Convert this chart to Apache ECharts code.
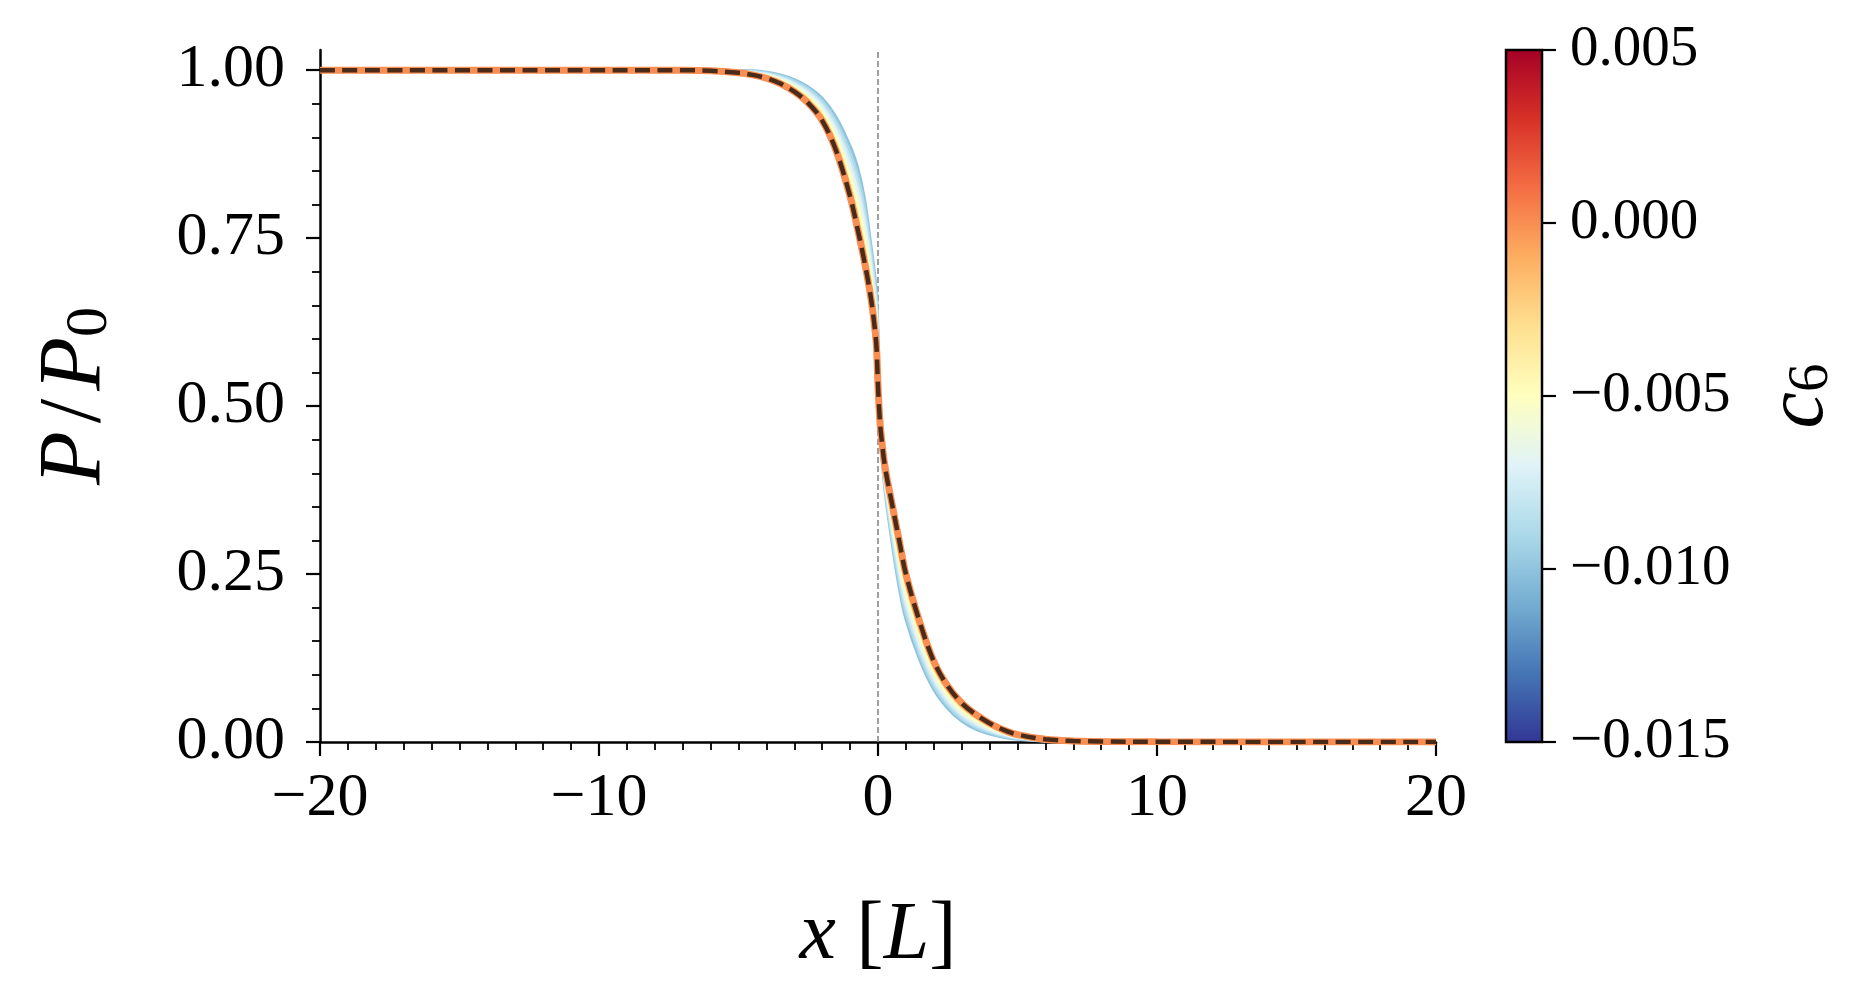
<!DOCTYPE html>
<html>
<head>
<meta charset="utf-8">
<script src="https://cdn.jsdelivr.net/npm/echarts@6/dist/echarts.min.js"></script>
<style>
html,body{margin:0;padding:0;background:#fff;}
#chart{width:1865px;height:1006px;}
</style>
</head>
<body>
<div id="chart"></div>
<script>
// ---------- data ----------
const X_VALUES = [-20,-10,-7,-6,-5,-4.5,-4,-3.5,-3,-2.5,-2,-1.5,-1,-0.75,-0.5,-0.25,-0.1,-0.05,0,0.05,0.1,0.25,0.5,0.75,1,1.5,2,2.5,3,3.5,4,4.5,5,6,7,8,10,20];

const C6_VALUES = [-0.010,-0.009,-0.008,-0.007,-0.006,-0.005,-0.004,0.000];

const P_C6_M010 = [1,1,1,1,0.9995,0.999,0.997,0.993,0.986,0.975,0.958,0.930,0.887,0.858,0.812,0.738,0.688,0.662,0.612,0.500,0.448,0.375,0.298,0.232,0.183,0.122,0.078,0.050,0.031,0.019,0.012,0.007,0.004,0.0012,0.0003,0,0,0];
const P_C6_M009 = [1,1,1,0.9999,0.9990,0.9982,0.9958,0.9913,0.9837,0.9719,0.9537,0.9235,0.8773,0.8462,0.7998,0.7279,0.6779,0.6520,0.6013,0.4987,0.4498,0.3795,0.3054,0.2411,0.1917,0.1293,0.0835,0.0543,0.0345,0.0219,0.0141,0.0084,0.0049,0.0016,0.0005,0.0001,0,0];
const P_C6_M008 = [1,1,1,0.9997,0.9986,0.9974,0.9947,0.9896,0.9813,0.9688,0.9494,0.9170,0.8675,0.8343,0.7876,0.7177,0.6677,0.6420,0.5907,0.4974,0.4516,0.3841,0.3128,0.2502,0.2004,0.1366,0.0889,0.0586,0.0380,0.0247,0.0162,0.0099,0.0058,0.0019,0.0006,0.0002,0.0001,0];
const P_C6_M007 = [1,1,1,0.9996,0.9981,0.9967,0.9935,0.9879,0.9790,0.9656,0.9451,0.9105,0.8578,0.8225,0.7753,0.7076,0.6576,0.6320,0.5800,0.4961,0.4535,0.3887,0.3202,0.2593,0.2091,0.1438,0.0944,0.0629,0.0415,0.0276,0.0182,0.0113,0.0067,0.0023,0.0008,0.0003,0.0001,0];
const P_C6_M006 = [1,1,1,0.9995,0.9977,0.9959,0.9923,0.9862,0.9766,0.9625,0.9408,0.9040,0.8480,0.8107,0.7631,0.6974,0.6474,0.6220,0.5694,0.4948,0.4553,0.3932,0.3276,0.2684,0.2178,0.1511,0.0998,0.0672,0.0450,0.0304,0.0203,0.0127,0.0076,0.0027,0.0009,0.0004,0.0002,0];
const P_C6_M005 = [1,1,1,0.9994,0.9973,0.9952,0.9912,0.9847,0.9745,0.9596,0.9369,0.8980,0.8390,0.7998,0.7518,0.6881,0.6381,0.6127,0.5595,0.4936,0.4570,0.3974,0.3345,0.2768,0.2259,0.1578,0.1049,0.0711,0.0483,0.0331,0.0222,0.0140,0.0085,0.0030,0.0011,0.0005,0.0002,0];
const P_C6_M004 = [1,1,1,0.9992,0.9968,0.9944,0.9902,0.9831,0.9723,0.9568,0.9329,0.8920,0.8300,0.7888,0.7406,0.6787,0.6287,0.6035,0.5497,0.4924,0.4586,0.4016,0.3413,0.2852,0.2339,0.1646,0.1099,0.0751,0.0515,0.0357,0.0242,0.0154,0.0093,0.0033,0.0012,0.0006,0.0002,0];
const P_C6_000  = [1,1,1,0.999,0.996,0.993,0.988,0.980,0.968,0.951,0.925,0.880,0.812,0.767,0.718,0.660,0.610,0.585,0.530,0.490,0.462,0.410,0.355,0.302,0.250,0.178,0.120,0.083,0.058,0.041,0.028,0.018,0.011,0.004,0.0015,0.0008,0.0003,0];

const CURVES = [P_C6_M010,P_C6_M009,P_C6_M008,P_C6_M007,P_C6_M006,P_C6_M005,P_C6_M004,P_C6_000];

const Y_MAJOR_TICKS = [0,0.25,0.5,0.75,1];
const Y_MINOR_TICKS = [0.05,0.1,0.15,0.2,0.3,0.35,0.4,0.45,0.55,0.6,0.65,0.7,0.8,0.85,0.9,0.95];
const CB_MIN = -0.015, CB_MAX = 0.005, CB_STEP = 0.005;

// ---------- styling ----------
const FONT = "'Liberation Serif','DejaVu Serif',serif";
const RDYLBU_R = ['#313695','#4575b4','#74add1','#abd9e9','#e0f3f8','#ffffbf','#fee090','#fdae61','#f46d43','#d73027','#a50026'];

function hexToRgb(h){return [parseInt(h.slice(1,3),16),parseInt(h.slice(3,5),16),parseInt(h.slice(5,7),16)];}
function cmap(t){
  t = Math.max(0, Math.min(1, t));
  const n = RDYLBU_R.length - 1;
  const p = t * n, i = Math.min(n - 1, Math.floor(p)), f = p - i;
  const a = hexToRgb(RDYLBU_R[i]), b = hexToRgb(RDYLBU_R[i+1]);
  const c = a.map((v,k)=>Math.round(v + (b[k]-v)*f));
  return 'rgb(' + c.join(',') + ')';
}
function colorFor(c6){ return cmap((c6 - CB_MIN)/(CB_MAX - CB_MIN)); }
function minus(s){ return s.replace('-', '\u2212'); }

const SMOOTH = 0.35;
const series = [];
CURVES.forEach((arr, idx) => {
  const c6 = C6_VALUES[idx];
  const isRef = c6 === 0;
  const s = {
    type: 'line',
    xAxisIndex: 0, yAxisIndex: 0,
    data: X_VALUES.map((x,i)=>[x, arr[i]]),
    showSymbol: false,
    smooth: SMOOTH,
    lineStyle: {color: colorFor(c6), width: isRef ? 7 : 3},
    itemStyle: {color: colorFor(c6)},
    z: 3,
    silent: true
  };
  if (idx === 0) {
    s.markLine = {
      symbol: 'none', silent: true, label: {show: false},
      lineStyle: {color: '#808080', width: 1.5, type: [6, 3]},
      data: [{xAxis: 0}],
      z: 1
    };
  }
  series.push(s);
});
// dashed reference line on top of the c6 = 0 curve
series.push({
  type: 'line', xAxisIndex: 0, yAxisIndex: 0,
  data: X_VALUES.map((x,i)=>[x, P_C6_000[i]]),
  showSymbol: false, smooth: SMOOTH,
  lineStyle: {color: 'rgba(0,0,0,0.7)', width: 4.5, type: [15, 7.5]},
  z: 4, silent: true
});
// colorbar
const gradStops = RDYLBU_R.map((c,i)=>({offset: i/(RDYLBU_R.length-1), color: c}));
series.push({
  type: 'custom', xAxisIndex: 1, yAxisIndex: 2,
  data: [[0, 1, CB_MIN, CB_MAX]],
  silent: true, clip: false,
  renderItem: function(params, api){
    const p0 = api.coord([api.value(0), api.value(2)]);
    const p1 = api.coord([api.value(1), api.value(3)]);
    return {
      type: 'rect',
      shape: {x: p0[0], y: p1[1], width: p1[0]-p0[0], height: p0[1]-p1[1]},
      style: {fill: new echarts.graphic.LinearGradient(0,1,0,0, gradStops), stroke: '#000', lineWidth: 2.5}
    };
  }
});

const tickLine = {color: '#000', width: 2.2};
const option = {
  backgroundColor: '#fff',
  animation: false,
  grid: [
    {left: 320, top: 50, width: 1116, height: 692},
    {left: 1506, top: 50, width: 36, height: 692}
  ],
  xAxis: [
    {
      gridIndex: 0, type: 'value', min: -20, max: 20, interval: 10,
      axisLine: {onZero: false, lineStyle: {color: '#000', width: 2.5}},
      axisTick: {length: 14, lineStyle: tickLine},
      minorTick: {show: true, splitNumber: 10, length: 8, lineStyle: {color: '#000', width: 1.8}},
      splitLine: {show: false}, minorSplitLine: {show: false},
      axisLabel: {margin: 26, color: '#000', fontFamily: FONT, fontSize: 62,
        formatter: v => minus(String(v))},
      name: '{i|x} {r|[}{i|L}{r|]}',
      nameLocation: 'middle', nameGap: 149,
      nameTextStyle: {
        color: '#000', fontFamily: FONT, fontSize: 82,
        rich: {
          i: {fontFamily: FONT, fontSize: 82, fontStyle: 'italic', lineHeight: 90, color: '#000'},
          r: {fontFamily: FONT, fontSize: 82, lineHeight: 90, color: '#000'}
        }
      }
    },
    {gridIndex: 1, type: 'value', min: 0, max: 1, show: false}
  ],
  yAxis: [
    {
      gridIndex: 0, type: 'value', min: 0, max: 1.03, position: 'left',
      axisLine: {onZero: false, lineStyle: {color: '#000', width: 2.5}},
      axisTick: {length: 14, lineStyle: tickLine, customValues: Y_MAJOR_TICKS},
      splitLine: {show: false},
      axisLabel: {margin: 35, color: '#000', fontFamily: FONT, fontSize: 62,
        customValues: Y_MAJOR_TICKS, formatter: v => Number(v).toFixed(2)},
      name: '{i|P}{r|/}{i|P}{s|0}',
      nameLocation: 'middle', nameRotate: 90, nameGap: 200,
      nameTextStyle: {
        color: '#000', fontFamily: FONT, fontSize: 88,
        rich: {
          i: {fontFamily: FONT, fontSize: 88, fontStyle: 'italic', lineHeight: 96, verticalAlign: 'bottom', color: '#000'},
          r: {fontFamily: FONT, fontSize: 88, lineHeight: 96, verticalAlign: 'bottom', color: '#000', padding: [0, 8, 0, 8]},
          s: {fontFamily: FONT, fontSize: 60, lineHeight: 54, verticalAlign: 'bottom', color: '#000'}
        }
      }
    },
    {
      gridIndex: 0, type: 'value', min: 0, max: 1.03, position: 'left', offset: 0,
      axisLine: {show: false, onZero: false},
      axisTick: {length: 8, lineStyle: {color: '#000', width: 1.8}, customValues: Y_MINOR_TICKS},
      axisLabel: {show: false}, splitLine: {show: false}
    },
    {
      gridIndex: 1, type: 'value', min: CB_MIN, max: CB_MAX, interval: CB_STEP, position: 'right',
      axisLine: {show: false, onZero: false},
      axisTick: {show: true, length: 14, lineStyle: tickLine},
      splitLine: {show: false},
      axisLabel: {margin: 28, color: '#000', fontFamily: FONT, fontSize: 57,
        formatter: v => minus(Number(v).toFixed(3))},
      name: '{i|c}{s|6}',
      nameLocation: 'middle', nameRotate: 90, nameGap: 209,
      nameTextStyle: {
        color: '#000', fontFamily: FONT, fontSize: 82,
        rich: {
          i: {fontFamily: FONT, fontSize: 82, fontStyle: 'italic', lineHeight: 90, verticalAlign: 'bottom', color: '#000'},
          s: {fontFamily: FONT, fontSize: 57, lineHeight: 50, verticalAlign: 'bottom', color: '#000'}
        }
      }
    }
  ],
  series: series
};

const chart = echarts.init(document.getElementById('chart'), null, {renderer: 'canvas'});
chart.setOption(option);
</script>
</body>
</html>
